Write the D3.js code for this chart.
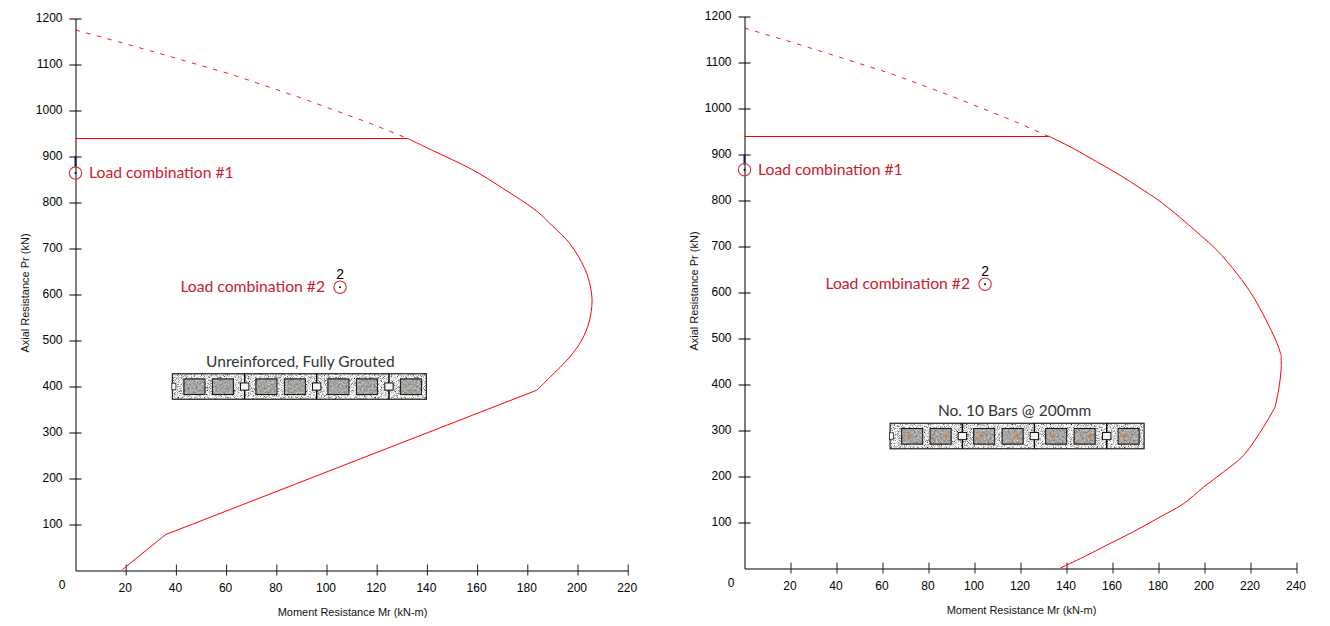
<!DOCTYPE html>
<html>
<head>
<meta charset="utf-8">
<script src="https://cdn.jsdelivr.net/npm/d3@7"></script>
<style>
  html, body { margin: 0; padding: 0; background: #fff; }
  svg { display: block; }
  .tick text, .zero { font-family: "Liberation Sans", Arial, sans-serif; font-size: 12px; fill: #000; }
  .two { font-family: "Liberation Sans", Arial, sans-serif; font-size: 14px; fill: #000; }
  .axis-title { font-family: "Liberation Sans", Arial, sans-serif; font-size: 11px; fill: #111; }
  .note { font-family: Lato, "Open Sans", sans-serif; font-size: 15.7px; fill: #c8202c; }
  .caption { font-family: Lato, "Open Sans", sans-serif; font-size: 15.5px; fill: #333; }
</style>
</head>
<body>
<div id="chart"></div>
<script>
// values
const axialTicks = [100, 200, 300, 400, 500, 600, 700, 800, 900, 1000, 1100, 1200];
const leftMomentTicks = [20, 40, 60, 80, 100, 120, 140, 160, 180, 200, 220];
const rightMomentTicks = [20, 40, 60, 80, 100, 120, 140, 160, 180, 200, 220, 240];

const leftMoment = [18.7, 35.9, 183.8, 189, 196.9, 201.7, 204.6, 205.8, 205, 203, 196.9, 190.2, 183.8, 170.2, 157.9, 142.3, 132.4];
const leftAxial = [2, 78, 392, 420, 464, 501, 540, 585, 620, 655, 711, 748, 781, 831, 872, 913, 939];

const rightMoment = [137.3, 147.4, 157.6, 169.1, 180.7, 190.9, 199.6, 208.3, 217, 225.7, 230.7, 232.2, 233.3, 233.3, 231, 221.3, 214.1, 205.4, 198.1, 189.4, 179.3, 172, 163.3, 153.2, 143, 132.2];
const rightAxial = [1, 25, 51, 80, 112, 141, 177, 210, 246, 308, 351, 388, 431, 464, 496, 590, 641, 692, 725, 763, 803, 827, 855, 884, 913, 940];

const dashMoment = [0, 20, 36, 63, 89, 117, 132.4];
const dashAxial = [1175, 1145, 1120, 1077, 1029, 973, 939];

const plateauMoment = [0, 132.4];
const plateauAxial = [939, 939];

const loadNames = ["Load combination #1", "Load combination #2"];
const leftLoadMoment = [0, 105.4];
const leftLoadAxial = [864, 616];
const rightLoadMoment = [0, 104.6];
const rightLoadAxial = [867, 618];

const captions = ["Unreinforced, Fully Grouted", "No. 10 Bars @ 200mm"];
const wallMoment = [38.6, 63.3];
const wallAxial = [400, 288];

const width = 1330, height = 626;
const svg = d3.select("#chart").append("svg").attr("width", width).attr("height", height);

// textures for the block drawing
const defs = svg.append("defs");
const grout = defs.append("filter").attr("id", "grout").attr("x", 0).attr("y", 0).attr("width", 1).attr("height", 1)
  .attr("color-interpolation-filters", "sRGB");
grout.append("feTurbulence").attr("type", "fractalNoise").attr("baseFrequency", 1.3).attr("numOctaves", 1).attr("seed", 4);
grout.append("feColorMatrix").attr("type", "matrix")
  .attr("values", "1.2 1.2 1.2 0 -0.9  1.2 1.2 1.2 0 -0.9  1.2 1.2 1.2 0 -0.9  0 0 0 0 1");
const stone = defs.append("filter").attr("id", "stone").attr("x", 0).attr("y", 0).attr("width", 1).attr("height", 1)
  .attr("color-interpolation-filters", "sRGB");
stone.append("feTurbulence").attr("type", "fractalNoise").attr("baseFrequency", 0.5).attr("numOctaves", 2).attr("seed", 9);
stone.append("feColorMatrix").attr("type", "matrix")
  .attr("values", "0.3 0.3 0.3 0 0.2  0.3 0.3 0.3 0 0.19  0.3 0.3 0.3 0 0.18  0 0 0 0 1");

function drawWall(g, x0, yMid, caption, withBars, captionDx) {
  const w = 254, h = 25.5;
  const top = yMid - h / 2;
  const cells = [11.6, 40, 83.6, 112, 155.6, 184, 228];
  const joints = [72.3, 144.3, 216.6];
  const bars = [19, 55, 91, 127, 163, 199, 235];

  g.append("rect").attr("x", x0).attr("y", top).attr("width", w).attr("height", h)
    .attr("filter", "url(#grout)");
  g.append("rect").attr("x", x0).attr("y", top).attr("width", w).attr("height", h)
    .attr("fill", "none").attr("stroke", "#222").attr("stroke-width", 1.2);

  // end notch
  g.append("rect").attr("x", x0 - 0.5).attr("y", top + 9.5).attr("width", 4).attr("height", 6.5)
    .attr("fill", "#fff").attr("stroke", "#222").attr("stroke-width", 0.8);

  joints.forEach(j => {
    g.append("line").attr("x1", x0 + j).attr("x2", x0 + j).attr("y1", top).attr("y2", top + h)
      .attr("stroke", "#000").attr("stroke-width", 1.4);
    g.append("rect").attr("x", x0 + j - 4.2).attr("y", top + 9.2).attr("width", 8.4).attr("height", 7.2)
      .attr("fill", "#f4f4ec").attr("stroke", "#111").attr("stroke-width", 1);
  });

  cells.forEach(c => {
    g.append("rect").attr("x", x0 + c).attr("y", top + 5.2).attr("width", 21).attr("height", 15.6)
      .attr("filter", "url(#stone)");
    g.append("rect").attr("x", x0 + c).attr("y", top + 5.2).attr("width", 21).attr("height", 15.6)
      .attr("fill", "none").attr("stroke", "#111").attr("stroke-width", 1);
  });

  if (withBars) {
    bars.forEach(b => {
      g.append("circle").attr("cx", x0 + b).attr("cy", yMid).attr("r", 1.8).attr("fill", "#ee7420");
    });
  }

  g.append("text").attr("class", "caption")
    .attr("x", x0 + w / 2 + captionDx).attr("y", yMid - 20)
    .attr("text-anchor", "middle").text(caption);
}

function drawPanel(opt) {
  const g = svg.append("g");
  const x = d3.scaleLinear().domain(opt.xDomain).range(opt.xRange);
  const y = d3.scaleLinear().domain([0, 1200]).range(opt.yRange);

  const line = d3.line().x(d => x(d[0])).y(d => y(d[1]));
  const smooth = d3.line().x(d => x(d[0])).y(d => y(d[1])).curve(d3.curveCatmullRom.alpha(0.5));

  // axes
  const yAxis = g.append("g").attr("transform", `translate(${opt.xRange[0]},0)`)
    .call(d3.axisLeft(y).tickValues(axialTicks).tickFormat(d3.format("d")).tickSizeOuter(0));
  yAxis.selectAll(".tick line").attr("x1", -6).attr("x2", 6).attr("stroke", "#000");
  yAxis.selectAll(".tick text").attr("x", -13).attr("dy", "0.24em");
  yAxis.select(".domain").attr("stroke", "#000");

  const xAxis = g.append("g").attr("transform", `translate(0,${opt.yRange[0]})`)
    .call(d3.axisBottom(x).tickValues(opt.xTicks).tickFormat(d3.format("d")).tickSizeOuter(0));
  xAxis.selectAll(".tick line").attr("y1", -6).attr("y2", 5).attr("stroke", "#222");
  xAxis.selectAll(".tick text").attr("y", 13).attr("x", -1);
  xAxis.select(".domain").attr("stroke", "#000");

  g.append("text").attr("class", "zero")
    .attr("x", opt.xRange[0] - 13.5).attr("y", opt.yRange[0] + 18).attr("text-anchor", "middle").text("0");

  g.append("text").attr("class", "axis-title")
    .attr("x", opt.xRange[0] + 277).attr("y", opt.yRange[0] + 45.5)
    .attr("text-anchor", "middle").text("Moment Resistance Mr (kN-m)");
  g.append("text").attr("class", "axis-title")
    .attr("transform", `translate(${opt.xRange[0] - 47},${y(600) - 1.5}) rotate(-90)`)
    .attr("text-anchor", "middle").text("Axial Resistance Pr (kN)");

  // interaction diagram, split where the reference has a kink
  const pts = d3.zip(opt.moment, opt.axial);
  opt.breaks.slice(1).forEach((b, i) => {
    const part = pts.slice(opt.breaks[i], b + 1);
    g.append("path").attr("d", part.length > 2 ? smooth(part) : line(part))
      .attr("fill", "none").attr("stroke", "#ff0000").attr("stroke-width", 1);
  });
  g.append("path").attr("d", line(d3.zip(plateauMoment, plateauAxial)))
    .attr("fill", "none").attr("stroke", "#ff0000").attr("stroke-width", 1.1);
  g.append("path").attr("d", line(d3.zip(dashMoment, dashAxial)))
    .attr("fill", "none").attr("stroke", "#ff0000").attr("stroke-width", 0.9)
    .attr("stroke-dasharray", "4.5 6.5");

  // load points
  const px1 = x(opt.loadMoment[0]), py1 = y(opt.loadAxial[0]);
  const px2 = x(opt.loadMoment[1]), py2 = y(opt.loadAxial[1]);

  g.append("line").attr("x1", px1).attr("x2", px1).attr("y1", y(900)).attr("y2", y(878))
    .attr("stroke", "#0a1f5c").attr("stroke-width", 2);

  [[px1, py1], [px2, py2]].forEach(p => {
    g.append("circle").attr("cx", p[0]).attr("cy", p[1]).attr("r", 6.2)
      .attr("fill", "none").attr("stroke", "#d0303c").attr("stroke-width", 1.1);
    g.append("circle").attr("cx", p[0]).attr("cy", p[1]).attr("r", 1).attr("fill", "#000");
  });

  g.append("text").attr("class", "note").attr("x", px1 + 13.5).attr("y", py1 + 5).text(loadNames[0]);
  g.append("text").attr("class", "note").attr("x", px2 - 15).attr("y", py2 + 5)
    .attr("text-anchor", "end").text(loadNames[1]);
  g.append("text").attr("class", "two").attr("x", px2).attr("y", py2 - 8)
    .attr("text-anchor", "middle").text("2");

  drawWall(g, x(opt.wallAt[0]), y(opt.wallAt[1]), opt.caption, opt.withBars, opt.captionDx);
}

drawPanel({
  xDomain: [0, 220], xRange: [75.5, 627.7], yRange: [570.5, 18.5],
  xTicks: leftMomentTicks, moment: leftMoment, axial: leftAxial,
  breaks: [0, 1, 2, leftMoment.length - 1],
  loadMoment: leftLoadMoment, loadAxial: leftLoadAxial,
  wallAt: [wallMoment[0], wallAxial[0]], caption: captions[0], withBars: false, captionDx: 1
});

drawPanel({
  xDomain: [0, 240], xRange: [744.5, 1296.5], yRange: [568.5, 16.5],
  xTicks: rightMomentTicks, moment: rightMoment, axial: rightAxial,
  breaks: [0, 10, 13, rightMoment.length - 1],
  loadMoment: rightLoadMoment, loadAxial: rightLoadAxial,
  wallAt: [wallMoment[1], wallAxial[1]], caption: captions[1], withBars: true, captionDx: -2.5
});
</script>
</body>
</html>
